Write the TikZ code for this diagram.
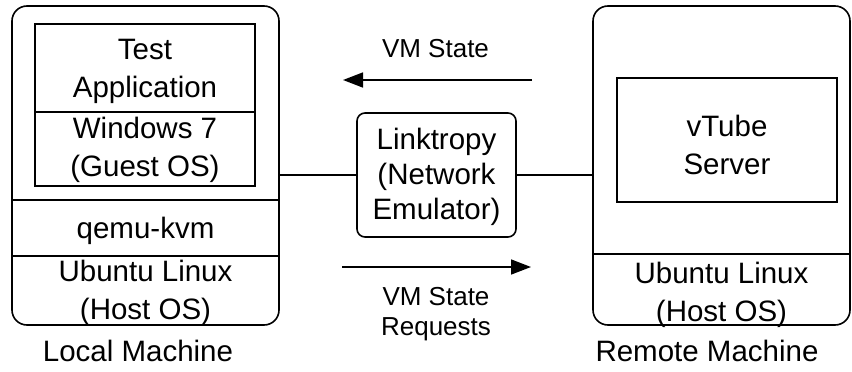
\documentclass[tikz,border=0pt]{standalone}
\usepackage{fontspec}
\setmainfont{Liberation Sans}
\usetikzlibrary{arrows.meta}
\begin{document}
\begin{tikzpicture}[x=1pt,y=-1pt,
  box/.style={draw,line width=1.6pt,inner sep=0pt},
  machine/.style={box,rounded corners=15pt},
  emu/.style={box,rounded corners=8pt},
  txt/.style={font=\fontsize{29.5}{38}\selectfont,align=center,inner sep=0pt},
  txtb/.style={font=\fontsize{29.5}{35}\selectfont,align=center,inner sep=0pt},
  lbl/.style={font=\fontsize{26}{30}\selectfont,align=center,inner sep=0pt},
  link/.style={line width=1.6pt},
  flow/.style={line width=1.6pt,-{Triangle[length=20pt,width=15pt]}}]
\useasboundingbox (0,0) rectangle (852,372);
% local machine
\node[machine,minimum width=267pt,minimum height=319pt] (local) at (145.5,165.5) {};
\node[box,minimum width=220pt,minimum height=88pt] (app) at (145,68) {};
\node[box,minimum width=220pt,minimum height=74pt] (win) at (145,149) {};
\draw[link] (local.west |- 0,200) -- (local.east |- 0,200);
\draw[link] (local.west |- 0,256) -- (local.east |- 0,256);
\node[txt] (apptxt) at (145,71) {Test\\Application};
\node[txt] (wintxt) at (145,150) {Windows 7\\(Guest OS)};
\node[txt] (qemu) at (145.5,231) {qemu-kvm};
\node[txt] (lhost) at (145.5,293) {Ubuntu Linux\\(Host OS)};
\node[txt] (lname) at (138,351) {Local Machine};
% remote machine
\node[machine,minimum width=257pt,minimum height=319pt] (remote) at (721.5,165.5) {};
\node[box,minimum width=220pt,minimum height=124pt] (vtube) at (727,140) {};
\draw[link] (remote.west |- 0,254) -- (remote.east |- 0,254);
\node[txt] (vtxt) at (727,145) {vTube\\Server};
\node[txt] (rhost) at (721.5,295) {Ubuntu Linux\\(Host OS)};
\node[txt] (rname) at (707,351) {Remote Machine};
% emulator
\node[emu,minimum width=159pt,minimum height=124pt] (linkt) at (436.5,175) {};
\node[txtb] (linktxt) at (436.5,177) {Linktropy\\(Network\\Emulator)};
\draw[link] (linkt.west -| local.east) -- (linkt.west);
\draw[link] (linkt.east) -- (linkt.east -| remote.west);
% arrows
\coordinate (a1s) at (532,80);
\coordinate (a1e) at (343,80);
\coordinate (a2s) at (342,267);
\coordinate (a2e) at (531,267);
\draw[flow] (a1s) -- (a1e);
\draw[flow] (a2s) -- (a2e);
\node[lbl] (l1) at (435.5,49) {VM State};
\node[lbl] (l2) at (436,314) {VM State\\Requests};
\end{tikzpicture}
\end{document}
